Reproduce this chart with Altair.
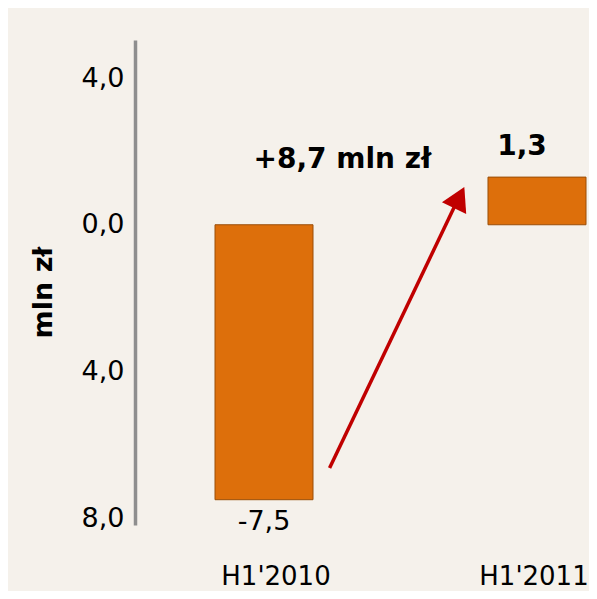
import altair as alt
import pandas as pd

# ---- data ----
categories = ["H1'2010", "H1'2011"]
values = [-7.5, 1.3]
y_ticks = [-8, -4, 0, 4]
change_text = "+8,7 mln zł"
y_title = "mln zł"

df = pd.DataFrame({"period": categories, "value": values})
df["label"] = [f"{v:.1f}".replace(".", ",") for v in values]
one = pd.DataFrame({"k": [0]})

FONT = "DejaVu Sans"
ORANGE = "#DD6F0B"
RED = "#C00000"

yscale = alt.Scale(domain=[-8.19, 5.04], nice=False, zero=False)
xband = alt.Scale(type="band", domain=categories, range=[80, 451], paddingInner=0.641, paddingOuter=0)
xq = alt.Scale(domain=[-0.4725, 1.1941], nice=False, zero=False)

bars = alt.Chart(df).mark_bar(
    color=ORANGE, stroke="#9A4E08", strokeWidth=1
).encode(
    x=alt.X("period:N", scale=xband, sort=categories, title=None,
            axis=alt.Axis(domain=False, ticks=False, labelAngle=0,
                          labelFont=FONT, labelFontSize=26, labelColor="black",
                          labelBaseline="alphabetic", labelPadding=59,
                          labelOffset={"condition": {"test": "indexof(datum.value, '2010') >= 0", "value": 12}, "value": -3})),
    y=alt.Y("value:Q", scale=yscale, title=y_title,
            axis=alt.Axis(values=y_ticks, grid=False, ticks=False,
                          domainColor="#8E8E8E", domainWidth=3.5,
                          labelExpr="replace(format(abs(datum.value), '.1f'), '.', ',')",
                          labelFont=FONT, labelFontSize=27, labelColor="black", labelPadding=11,
                          titleFont=FONT, titleFontSize=27, titleFontWeight="bold",
                          titleColor="black", titleAngle=270, titleBaseline="alphabetic",
                          titleX=-84, titleY=252)),
    y2=alt.datum(0),
)

neg_labels = alt.Chart(df).transform_filter("datum.value < 0").mark_text(
    font=FONT, fontSize=27, baseline="alphabetic", dy=30, color="black"
).encode(
    x=alt.X("period:N", scale=xband, sort=categories, axis=None),
    y=alt.Y("value:Q", scale=yscale),
    text="label:N",
)

pos_labels = alt.Chart(df).transform_filter("datum.value >= 0").mark_text(
    font=FONT, fontSize=28, fontWeight="bold", baseline="alphabetic", dy=-22, dx=-15, color="black"
).encode(
    x=alt.X("period:N", scale=xband, sort=categories, axis=None),
    y=alt.Y("value:Q", scale=yscale),
    text="label:N",
)

arrow_line = alt.Chart(one).mark_rule(color=RED, strokeWidth=3.5).encode(
    x=alt.XDatum(0.2418, type="quantitative", scale=xq, axis=None),
    x2=alt.datum(0.703),
    y=alt.YDatum(-6.635, type="quantitative", scale=yscale),
    y2=alt.datum(0.537),
)

arrow_head = alt.Chart(one).mark_point(
    shape="triangle-up", filled=True, color=RED, opacity=1, size=730, angle=26
).encode(
    x=alt.XDatum(0.7176, type="quantitative", scale=xq, axis=None),
    y=alt.YDatum(0.742, type="quantitative", scale=yscale),
)

change_lbl = alt.Chart(one).mark_text(
    font=FONT, fontSize=28, fontWeight="bold", baseline="middle", color="black", text=change_text
).encode(
    x=alt.XDatum(0.289, type="quantitative", scale=xq, axis=None),
    y=alt.YDatum(1.76, type="quantitative", scale=yscale),
)

chart = alt.layer(
    bars, neg_labels, pos_labels, arrow_line, arrow_head, change_lbl
).resolve_scale(
    x="independent"
).properties(
    width=454, height=485,
    autosize=alt.AutoSizeParams(type="none"),
    padding={"left": 127, "top": 32, "right": 0, "bottom": 66},
    background="#F5F1EB",
).configure_view(stroke=None)

chart.save("out.html", embed_options={"renderer": "svg", "actions": False})
